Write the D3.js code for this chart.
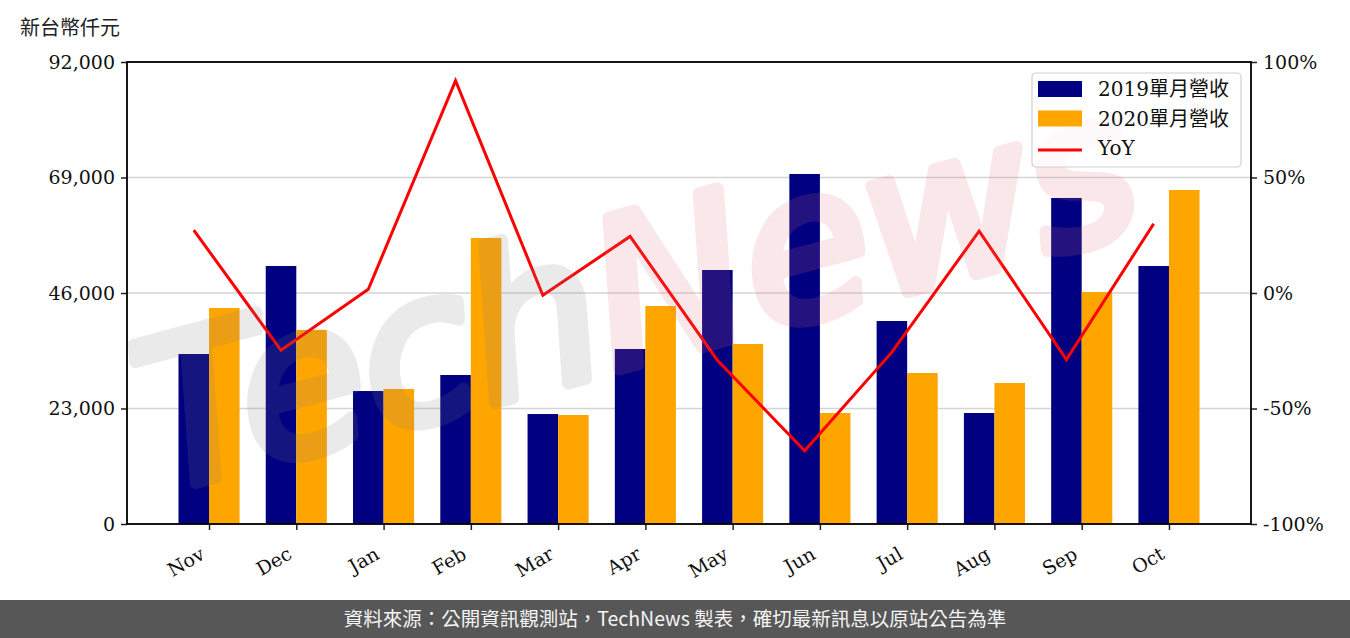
<!DOCTYPE html>
<html>
<head>
<meta charset="utf-8">
<script src="https://cdn.jsdelivr.net/npm/d3@7"></script>
<style>
  body { margin: 0; background: #fff; }
  svg { display: block; }
</style>
</head>
<body>
<div class="container"></div>
<script>
// values
const months = ["Nov", "Dec", "Jan", "Feb", "Mar", "Apr", "May", "Jun", "Jul", "Aug", "Sep", "Oct"];
const rev2019 = [33850, 51380, 26480, 29670, 21900, 34850, 50580, 69700, 40420, 22100, 64920, 51380];
const rev2020 = [43010, 38630, 26880, 56950, 21700, 43410, 35840, 22100, 30070, 28080, 46200, 66510];
const yoy = [0.272, -0.248, 0.016, 0.919, -0.01, 0.245, -0.291, -0.683, -0.256, 0.268, -0.288, 0.30];
const leftTicks = [0, 23000, 46000, 69000, 92000];
const rightTicks = [-1, -0.5, 0, 0.5, 1];

const width = 1350, height = 638;
const margin = { top: 62, right: 99, bottom: 114, left: 127 };
const serif = "'DejaVu Serif', serif";

const svg = d3.select(".container").append("svg")
  .attr("width", width)
  .attr("height", height);

const x = d3.scaleLinear().domain([-0.94, 11.94]).range([margin.left, width - margin.right]);
const y = d3.scaleLinear().domain([0, 92000]).range([height - margin.bottom, margin.top]);
const yR = d3.scaleLinear().domain([-1, 1]).range([height - margin.bottom, margin.top]);
const bw = 0.35;

svg.append("clipPath").attr("id", "plot")
  .append("rect")
  .attr("x", margin.left).attr("y", margin.top)
  .attr("width", width - margin.right - margin.left)
  .attr("height", height - margin.bottom - margin.top);

// grid
svg.append("g")
  .selectAll("line")
  .data(leftTicks)
  .join("line")
  .attr("x1", x.range()[0]).attr("x2", x.range()[1])
  .attr("y1", d => y(d)).attr("y2", d => y(d))
  .attr("stroke", "#d4d4d4")
  .attr("stroke-width", 1.5);

// bars
svg.append("g")
  .selectAll("rect")
  .data(rev2019)
  .join("rect")
  .attr("x", (d, i) => x(i - bw))
  .attr("width", x(bw) - x(0))
  .attr("y", d => y(d))
  .attr("height", d => y(0) - y(d))
  .attr("fill", "#000080");

svg.append("g")
  .selectAll("rect")
  .data(rev2020)
  .join("rect")
  .attr("x", (d, i) => x(i))
  .attr("width", x(bw) - x(0))
  .attr("y", d => y(d))
  .attr("height", d => y(0) - y(d))
  .attr("fill", "#ffa500");

// yoy line, drawn through the middle of the 2019 bars
const line = d3.line().x((d, i) => x(i - bw / 2)).y(d => yR(d));
svg.append("path")
  .datum(yoy)
  .attr("d", line)
  .attr("fill", "none")
  .attr("stroke", "#ff0000")
  .attr("stroke-width", 3);

// watermark
const wm = svg.append("g").attr("clip-path", "url(#plot)")
  .append("g").attr("opacity", 0.16)
  .append("text")
  .attr("transform", "translate(655,360) rotate(-15)")
  .attr("text-anchor", "middle")
  .attr("stroke-width", 12)
  .attr("stroke-linejoin", "round")
  .style("font", "italic 205px 'DejaVu Sans', sans-serif");
wm.append("tspan").attr("fill", "#808080").attr("stroke", "#808080").text("Tech");
wm.append("tspan").attr("fill", "#e06f7c").attr("stroke", "#e06f7c").text("News");

// axes
const axL = svg.append("g")
  .attr("transform", `translate(${margin.left},0)`)
  .call(d3.axisLeft(y).tickValues(leftTicks).tickSize(6).tickPadding(6).tickFormat(d3.format(",")));
const axR = svg.append("g")
  .attr("transform", `translate(${width - margin.right},0)`)
  .call(d3.axisRight(yR).tickValues(rightTicks).tickSize(6).tickPadding(6).tickFormat(d => Math.round(d * 100) + "%"));
const axB = svg.append("g")
  .attr("transform", `translate(0,${height - margin.bottom})`)
  .call(d3.axisBottom(x).tickValues(d3.range(months.length)).tickSize(6).tickFormat(i => months[i]));

[axL, axR, axB].forEach(g => {
  g.select(".domain").remove();
  g.selectAll(".tick line").attr("stroke", "#222").attr("stroke-width", 1.5);
  g.selectAll("text").style("font", `19px ${serif}`).attr("fill", "#111");
});
axB.selectAll("text")
  .attr("text-anchor", "end")
  .attr("dy", 0)
  .attr("transform", "translate(-8,26) rotate(-30)");

// spines
svg.append("rect")
  .attr("x", margin.left).attr("y", margin.top)
  .attr("width", width - margin.right - margin.left)
  .attr("height", height - margin.bottom - margin.top)
  .attr("fill", "none")
  .attr("stroke", "#000")
  .attr("stroke-width", 1.8);

// legend
const lg = svg.append("g").attr("transform", "translate(1032,73)");
lg.append("rect")
  .attr("width", 209).attr("height", 94)
  .attr("rx", 4)
  .attr("fill", "rgba(255,255,255,0.8)")
  .attr("stroke", "#d0d0d0")
  .attr("stroke-width", 1.2);
const items = [
  { label: "2019單月營收", color: "#000080", type: "rect" },
  { label: "2020單月營收", color: "#ffa500", type: "rect" },
  { label: "YoY", color: "#ff0000", type: "line" }
];
items.forEach((it, i) => {
  const cy = 16 + i * 29.5;
  if (it.type === "rect") {
    lg.append("rect").attr("x", 6).attr("y", cy - 8).attr("width", 44).attr("height", 16).attr("fill", it.color);
  } else {
    lg.append("line").attr("x1", 6).attr("x2", 50).attr("y1", cy + 2).attr("y2", cy + 2)
      .attr("stroke", it.color).attr("stroke-width", 3);
  }
  lg.append("text")
    .attr("x", 66).attr("y", cy + 7)
    .style("font", `20px ${serif}, 'Noto Sans CJK TC'`)
    .attr("fill", "#111")
    .text(it.label);
});

// unit label
svg.append("text")
  .attr("x", 20).attr("y", 35)
  .style("font", "20px 'Noto Sans CJK TC', sans-serif")
  .attr("fill", "#222")
  .text("新台幣仟元");

// footer
svg.append("rect")
  .attr("x", 0).attr("y", 600)
  .attr("width", width).attr("height", 38)
  .attr("fill", "#575757");
svg.append("text")
  .attr("x", width / 2).attr("y", 626)
  .attr("text-anchor", "middle")
  .style("font", "19.5px 'Noto Sans CJK TC', sans-serif")
  .attr("fill", "#f4f4f4")
  .text("資料來源：公開資訊觀測站，TechNews 製表，確切最新訊息以原站公告為準");
</script>
</body>
</html>
